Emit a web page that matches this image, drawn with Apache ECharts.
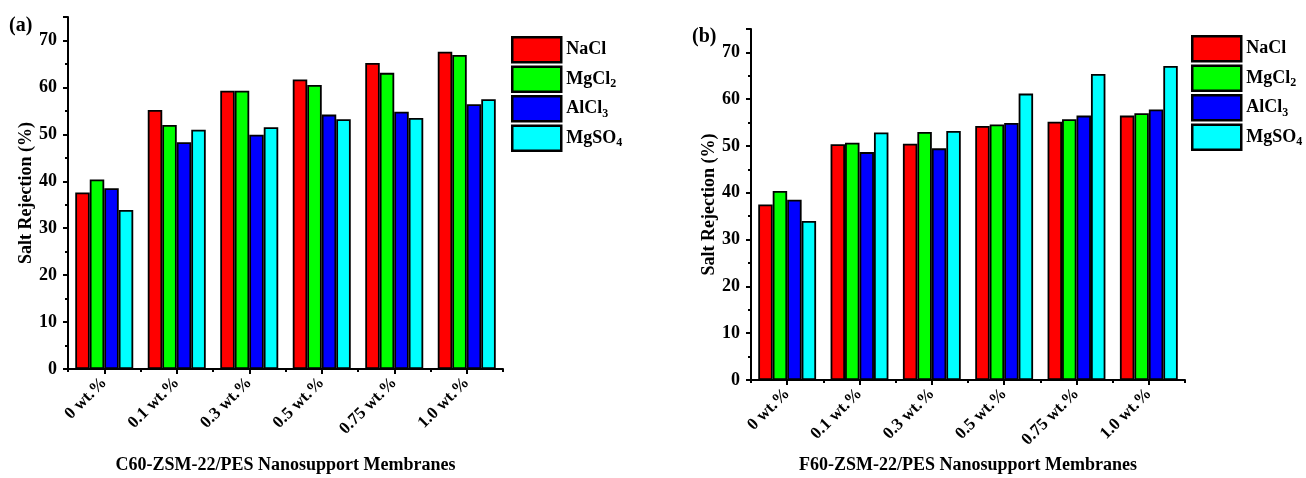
<!DOCTYPE html>
<html>
<head>
<meta charset="utf-8">
<script src="https://cdn.jsdelivr.net/npm/echarts@6/dist/echarts.min.js"></script>
<style>
html,body{margin:0;padding:0;background:#fff;}
#main{width:1306px;height:478px;}
</style>
</head>
<body>
<div id="main"></div>
<script>
// ---- data ----
const categories = ['0 wt.%', '0.1 wt.%', '0.3 wt.%', '0.5 wt.%', '0.75 wt.%', '1.0 wt.%'];
const saltNames = ['NaCl', 'MgCl2', 'AlCl3', 'MgSO4'];
const saltLabels = ['{n|NaCl}', '{n|MgCl}{s|2}', '{n|AlCl}{s|3}', '{n|MgSO}{s|4}'];

// panel (a): C60-ZSM-22/PES
const naclA  = [37.6, 55.2, 59.3, 61.7, 65.2, 67.6];
const mgcl2A = [40.4, 52.0, 59.3, 60.5, 63.1, 66.9];
const alcl3A = [38.5, 48.3, 49.9, 54.2, 54.8, 56.4];
const mgso4A = [33.9, 51.0, 51.5, 53.2, 53.5, 57.5];

// panel (b): F60-ZSM-22/PES
const naclB  = [37.5, 50.4, 50.5, 54.3, 55.2, 56.5];
const mgcl2B = [40.4, 50.7, 53.0, 54.6, 55.7, 57.0];
const alcl3B = [38.5, 48.7, 49.5, 54.9, 56.5, 57.8];
const mgso4B = [34.0, 52.9, 53.2, 61.2, 65.4, 67.1];

const yMin = 0, yMax = 75, yInterval = 10;
const panelLabels = ['(a)', '(b)'];
const xTitles = ['C60-ZSM-22/PES Nanosupport Membranes', 'F60-ZSM-22/PES Nanosupport Membranes'];
const yTitle = 'Salt Rejection (%)';

// ---- styles ----
const FONT = '"Liberation Serif", "Times New Roman", serif';
const colors = ['#FF0000', '#00FF00', '#0000FF', '#00FFFF'];
const grids = [
  {left: 68, top: 17, width: 435, height: 352, containLabel: false, outerBoundsMode: 'none'},
  {left: 751, top: 29, width: 434, height: 351, containLabel: false, outerBoundsMode: 'none'}
];
const legendPos = [{left: 511, top: 36}, {left: 1191, top: 35}];
const labelPos = [{x: 9, y: 16}, {x: 692, y: 27}];
const nameGapX = [87, 76];

const panelData = [[naclA, mgcl2A, alcl3A, mgso4A], [naclB, mgcl2B, alcl3B, mgso4B]];

const xAxes = [], yAxes = [], series = [], legends = [], graphics = [];
grids.forEach(function (g, p) {
  xAxes.push({
    type: 'category', gridIndex: p, data: categories, position: 'bottom',
    name: xTitles[p], nameLocation: 'middle', nameGap: nameGapX[p],
    nameTextStyle: {fontFamily: FONT, fontWeight: 'bold', fontSize: 18, color: '#000'},
    axisLine: {show: true, lineStyle: {color: '#000', width: 2}},
    axisTick: {show: true, alignWithLabel: true, length: 5, lineStyle: {color: '#000', width: 2}},
    axisLabel: {rotate: 45, margin: 11, fontFamily: FONT, fontWeight: 'bold', fontSize: 17, color: '#000', interval: 0},
    splitLine: {show: false}
  });
  xAxes.push({
    type: 'category', gridIndex: p, data: categories, position: 'bottom',
    axisLine: {show: false},
    axisTick: {show: true, alignWithLabel: false, length: 3, lineStyle: {color: '#000', width: 2}},
    axisLabel: {show: false},
    splitLine: {show: false}
  });
  yAxes.push({
    type: 'value', gridIndex: p, min: yMin, max: yMax, interval: yInterval,
    name: yTitle, nameLocation: 'middle', nameGap: 33,
    nameTextStyle: {fontFamily: FONT, fontWeight: 'bold', fontSize: 18, color: '#000'},
    axisLine: {show: true, lineStyle: {color: '#000', width: 2}},
    axisTick: {show: true, length: 5, lineStyle: {color: '#000', width: 2}},
    minorTick: {show: true, splitNumber: 2, length: 3, lineStyle: {color: '#000', width: 2}},
    axisLabel: {showMaxLabel: false, margin: 11, fontFamily: FONT, fontWeight: 'bold', fontSize: 18, color: '#000'},
    splitLine: {show: false}
  });
  saltNames.forEach(function (name, i) {
    series.push({
      type: 'bar', name: name, xAxisIndex: p * 2, yAxisIndex: p,
      data: panelData[p][i],
      barGap: '0%', barCategoryGap: '20%',
      itemStyle: {color: colors[i], borderColor: '#000', borderWidth: 1.8},
      emphasis: {disabled: true}
    });
  });
  legends.push({
    orient: 'vertical', left: legendPos[p].left, top: legendPos[p].top, padding: 0,
    data: saltNames, icon: 'rect', itemWidth: 49, itemHeight: 25, itemGap: 2,
    selectedMode: false,
    itemStyle: {borderColor: '#000', borderWidth: 2.5},
    formatter: function (name) { return saltLabels[saltNames.indexOf(name)]; },
    textStyle: {
      fontFamily: FONT, fontWeight: 'bold', fontSize: 18, color: '#000',
      rich: {
        n: {fontFamily: FONT, fontWeight: 'bold', fontSize: 18, lineHeight: 22, color: '#000'},
        s: {fontFamily: FONT, fontWeight: 'bold', fontSize: 12, lineHeight: 12, color: '#000', verticalAlign: 'bottom'}
      }
    }
  });
  graphics.push({
    type: 'text', left: labelPos[p].x, top: labelPos[p].y,
    style: {text: panelLabels[p], fontFamily: FONT, fontWeight: 'bold', fontSize: 20, fill: '#000'}
  });
});

const chart = echarts.init(document.getElementById('main'), null, {renderer: 'canvas'});
chart.setOption({
  backgroundColor: '#fff',
  animation: false,
  grid: grids,
  xAxis: xAxes,
  yAxis: yAxes,
  legend: legends,
  series: series,
  graphic: graphics
});
</script>
</body>
</html>
